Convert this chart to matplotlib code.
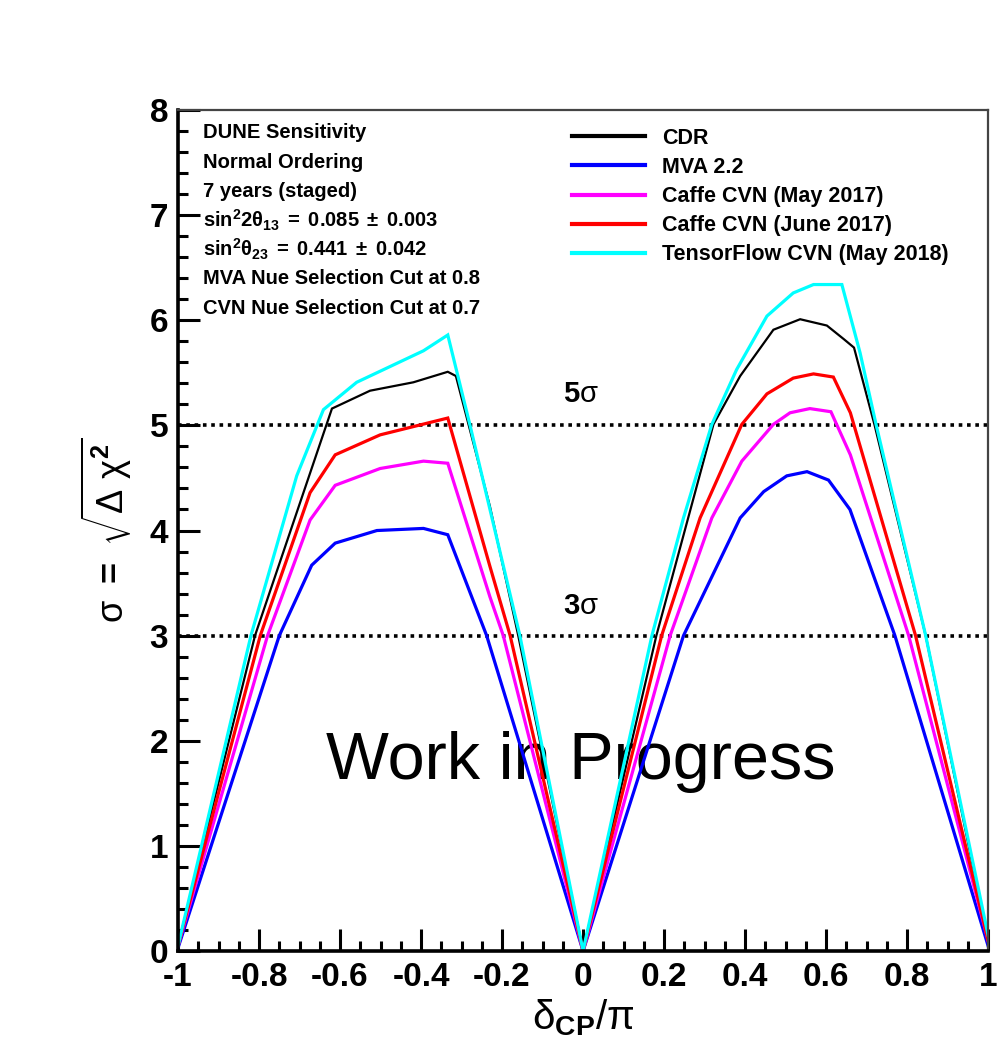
import matplotlib
matplotlib.use('Agg')
import matplotlib.pyplot as plt
from matplotlib.ticker import MultipleLocator, FormatStrFormatter

plt.rcParams['font.family'] = ['Liberation Sans', 'DejaVu Sans']
plt.rcParams['font.weight'] = 'bold'
plt.rcParams['mathtext.fontset'] = 'custom'
plt.rcParams['mathtext.rm'] = 'Liberation Sans:weight=normal'
plt.rcParams['mathtext.bf'] = 'Liberation Sans:bold'
plt.rcParams['mathtext.it'] = 'Liberation Sans:italic'

# values (delta_CP/pi, sigma)
cdr_x = [-1, -0.81, -0.62, -0.526, -0.419, -0.334, -0.314, -0.23, -0.16, 0,
         0.181, 0.322, 0.388, 0.47, 0.536, 0.602, 0.644, 0.669, 0.72, 0.846, 1]
cdr_y = [0.05, 3.0, 5.16, 5.33, 5.41, 5.51, 5.47, 4.23, 3.0, 0,
         3.0, 5.01, 5.47, 5.91, 6.01, 5.95, 5.82, 5.74, 5.0, 3.0, 0.1]

mva_x = [-1, -0.75, -0.67, -0.612, -0.509, -0.394, -0.334, -0.238, 0,
         0.248, 0.388, 0.446, 0.503, 0.553, 0.606, 0.659, 0.77, 1]
mva_y = [0.03, 3.0, 3.67, 3.88, 4.0, 4.02, 3.96, 3.0, 0,
         3.0, 4.12, 4.37, 4.52, 4.56, 4.48, 4.2, 3.0, 0.05]

may17_x = [-1, -0.779, -0.674, -0.612, -0.501, -0.394, -0.334, -0.23, -0.197, 0,
           0.215, 0.318, 0.392, 0.47, 0.511, 0.56, 0.612, 0.66, 0.804, 1]
may17_y = [0.05, 3.0, 4.1, 4.43, 4.59, 4.66, 4.64, 3.37, 3.0, 0,
           3.0, 4.12, 4.66, 5.01, 5.12, 5.16, 5.13, 4.72, 3.0, 0.1]

june17_x = [-1, -0.797, -0.674, -0.612, -0.501, -0.334, -0.23, -0.18, 0,
            0.194, 0.289, 0.392, 0.454, 0.519, 0.569, 0.618, 0.66, 0.821, 1]
june17_y = [0.05, 3.0, 4.36, 4.72, 4.91, 5.07, 3.66, 3.0, 0,
            3.0, 4.12, 5.01, 5.3, 5.45, 5.49, 5.46, 5.12, 3.0, 0.1]

tf_x = [-1, -0.82, -0.707, -0.641, -0.559, -0.394, -0.334, -0.279, -0.156, 0,
        0.17, 0.248, 0.318, 0.379, 0.454, 0.519, 0.569, 0.639, 0.684, 0.724, 0.846, 1]
tf_y = [0.05, 3.0, 4.52, 5.15, 5.41, 5.71, 5.86, 5.0, 3.0, 0,
        3.0, 4.12, 5.01, 5.53, 6.04, 6.26, 6.34, 6.34, 5.69, 5.0, 3.0, 0.15]

labels = ['CDR', 'MVA 2.2', 'Caffe CVN (May 2017)', 'Caffe CVN (June 2017)',
          'TensorFlow CVN (May 2018)']
colors = ['black', '#0000ff', '#ff00ff', '#ff0000', '#00ffff']

info = ['DUNE Sensitivity', 'Normal Ordering', '7 years (staged)',
        r'$\mathbf{sin^{2}2\theta_{13}\;=\;0.085\;\pm\;0.003}$',
        r'$\mathbf{sin^{2}\theta_{23}\;=\;0.441\;\pm\;0.042}$',
        'MVA Nue Selection Cut at 0.8', 'CVN Nue Selection Cut at 0.7']

fig = plt.figure(figsize=(10.07, 10.52), dpi=100)
ax = fig.add_axes([0.1768, 0.0960, 0.8044, 0.7994])

series = [(cdr_x, cdr_y), (mva_x, mva_y), (may17_x, may17_y),
          (june17_x, june17_y), (tf_x, tf_y)]
for (xs, ys), lab, c in zip(series, labels, colors):
    lw = 1.6 if lab == 'CDR' else 2.3
    ax.plot(xs, ys, color=c, lw=lw, label=lab, solid_joinstyle='miter')

for lev in [3, 5]:
    ax.axhline(lev, color='black', lw=2.6, linestyle=(0, (1.0, 1.3)), zorder=1)

ax.text(-0.005, 5.30, r'5$\mathrm{\sigma}$', fontsize=21, ha='center', va='center')
ax.text(-0.005, 3.28, r'3$\mathrm{\sigma}$', fontsize=21, ha='center', va='center')
ax.text(-0.005, 1.8, 'Work in Progress', fontsize=48, fontweight='normal',
        ha='center', va='center', zorder=0)

ax.set_xlim(-1, 1)
ax.set_ylim(0, 8)
ax.xaxis.set_major_locator(MultipleLocator(0.2))
ax.xaxis.set_minor_locator(MultipleLocator(0.05))
ax.yaxis.set_major_locator(MultipleLocator(1))
ax.yaxis.set_minor_locator(MultipleLocator(0.2))
ax.xaxis.set_major_formatter(plt.FuncFormatter(lambda v, p: ('%g' % round(v, 2))))
ax.yaxis.set_major_formatter(FormatStrFormatter('%d'))
ax.tick_params(which='both', direction='in', top=False, right=False, width=2.2,
               labelsize=24)
ax.tick_params(axis='x', pad=8)
ax.tick_params(axis='y', pad=7)
ax.tick_params(which='major', length=16)
ax.tick_params(which='minor', length=7)
for s in ['left', 'bottom']:
    ax.spines[s].set_linewidth(2.6)
for s in ['top', 'right']:
    ax.spines[s].set_linewidth(1.6)
    ax.spines[s].set_color('#444444')

ax.set_xlabel(r'$\mathrm{\delta}_{\mathbf{CP}}/\mathrm{\pi}$', fontsize=29, labelpad=3)
ax.set_ylabel(r'$\mathrm{\sigma}\ \mathbf{=}\ \sqrt{\mathrm{\Delta\ \chi}^{\mathbf{2}}}$',
              fontsize=26, labelpad=11)

leg = ax.legend(loc='upper left', bbox_to_anchor=(0.486, 0.979), frameon=False,
                handlelength=3.4, handletextpad=0.8, labelspacing=0.38,
                borderpad=0, borderaxespad=0, prop={'weight': 'bold', 'size': 15.5})
for line in leg.get_lines():
    line.set_linewidth(3.0)

for i, t in enumerate(info):
    y = 1 - (133 + i * 29.2) / 1052
    fig.text(203 / 1007, y, t, fontsize=14.5, fontweight='bold', va='center', ha='left')

fig.savefig('out.png', dpi=100)
